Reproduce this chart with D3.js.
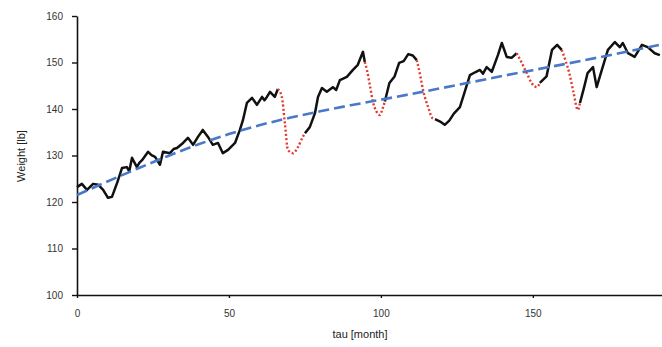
<!DOCTYPE html>
<html>
<head>
<meta charset="utf-8">
<script src="https://cdn.jsdelivr.net/npm/d3@7"></script>
<style>
	body { margin: 0; background: #fff; }
	svg { display: block; }
	.axis text { font-family: "Liberation Sans", Arial, sans-serif; font-size: 10px; fill: #333; }
	.axis path, .axis line { stroke: #111; }
</style>
</head>
<body>
<svg id="chart" width="662" height="347"></svg>
<script>
// observed weight (tau in months)
const tau = [0, 1.6, 3.3, 5.3, 7, 8.6, 10.2, 11.5, 13.2, 14.8, 16.4, 17.2, 18.1, 19.7, 20.5, 21.4, 23.4, 24.5, 25.7, 27.3, 28.3, 30.6, 31.8, 32.9,
	34.9, 36.5, 38.2, 39.8, 41.4, 43.1, 44.7, 46.4, 48, 49.7, 52, 53.6, 54.6, 55.9, 57.6, 59.2, 60.9, 61.7, 62.5, 63.5, 65.1,
	66.1, 67.4, 68.4, 69.4, 71.1, 72.7, 74.3, 75, 76.6, 78.3, 79.3, 80.6, 82.2, 84.2, 85.3, 86.5, 88.8, 90.8, 92.4, 94.1, 94.7,
	95.4, 96.4, 97.4, 98.5, 99.7, 100.5, 101.3, 102.8, 104.5, 106, 107.5, 109, 110.5, 111.8, 113, 114, 115.5, 117, 117.8,
	119.5, 121, 122.5, 124, 126, 127.5, 129.3, 131, 132.6, 133.6, 134.8, 136.5, 138.5, 139.8, 141.4, 143, 144.7, 146.3, 148,
	149.7, 151.3, 152.3, 154.5, 156.3, 158, 159.5, 160.7, 162, 163.4, 164.8, 165.5, 166.8, 168, 169.8, 171, 172.7, 174.7,
	177, 178.6, 179.6, 181.3, 183.5, 185.9, 187.8, 190.1, 191.8];
const weight = [123.2, 123.9, 122.6, 123.9, 123.7, 122.6, 120.9, 121.1, 124.1, 127.3, 127.5, 126.6, 129.5, 127.5, 128.4, 129, 130.8, 130.1, 129.7, 128, 130.8, 130.5, 131.4, 131.6,
	132.7, 133.8, 132.3, 134, 135.5, 134, 132.3, 132.7, 130.5, 131.2, 132.7, 135.5, 137.6, 141.3, 142.4, 140.9, 142.6, 141.9, 142.6, 143.7, 142.6,
	144.3, 142.6, 137, 131.2, 130.5, 131.8, 134, 134.8, 136.1, 139.1, 142.6, 144.5, 143.7, 144.7, 144.1, 146.2, 146.9, 148.4, 149.5, 152.3, 150.1,
	148.4, 145, 141.5, 139.5, 138.7, 140, 141.6, 145.6, 147, 149.9, 150.3, 151.8, 151.5, 150.5, 147, 143.7, 140.5, 138, 137.8,
	137.3, 136.6, 137.5, 139, 140.4, 143.5, 147.3, 147.9, 148.4, 147.6, 149, 148, 151.6, 154.2, 151.2, 151, 152, 150, 147.7,
	145.5, 144.7, 145.6, 147, 152.7, 153.8, 152.7, 150.5, 147.7, 143.5, 139.8, 141.3, 144.5, 147.7, 149, 144.7, 148.4, 152.7,
	154.4, 153.3, 154.2, 152, 151.2, 153.8, 153.3, 152, 151.6];

// tau intervals that are filled in (red dotted)
const gapStart = [66.1, 94.7, 111.8, 144.7, 159.5];
const gapEnd = [75, 101.3, 117.8, 152.3, 165.5];

// fitted trend
const trendTau = [0, 10, 20, 30, 40, 50, 60, 70, 80, 90, 100, 120, 140, 160, 180, 192.5];
const trendWeight = [121.5, 124.4, 127.2, 129.9, 132.4, 134.6, 136.5, 138.1, 139.5, 140.8, 142.0, 144.5, 147.1, 149.6, 152.2, 153.9];

const yTicks = [100, 110, 120, 130, 140, 150, 160];
const xTicks = [0, 50, 100, 150];

const svg = d3.select("#chart");
const x = d3.scaleLinear().domain([0, 192.5]).range([77, 662]);
const y = d3.scaleLinear().domain([100, 160]).range([295, 16]);

const points = tau.map((t, i) => ({ t: t, w: weight[i] }));
const inGap = t => gapStart.some((s, i) => t > s && t < gapEnd[i]);

// axes
svg.append("g")
	.attr("class", "axis")
	.attr("transform", "translate(77,0)")
	.call(d3.axisLeft(y).tickValues(yTicks).tickSize(5).tickPadding(9).tickSizeOuter(0))
	.call(g => g.select(".domain").attr("stroke-width", 1.6))
	.call(g => g.selectAll("line").attr("stroke-width", 1.4));

svg.append("g")
	.attr("class", "axis")
	.attr("transform", "translate(0,295)")
	.call(d3.axisBottom(x).tickValues(xTicks).tickSize(3).tickPadding(12).tickSizeOuter(0))
	.call(g => g.select(".domain").attr("stroke-width", 1.6))
	.call(g => g.selectAll("line").attr("stroke-width", 1.4));

svg.append("text")
	.attr("transform", "translate(25,156) rotate(-90)")
	.attr("text-anchor", "middle")
	.attr("font-family", "Liberation Sans, Arial, sans-serif")
	.attr("font-size", 11)
	.attr("fill", "#222")
	.text("Weight [lb]");

svg.append("text")
	.attr("x", 360)
	.attr("y", 338)
	.attr("text-anchor", "middle")
	.attr("font-family", "Liberation Sans, Arial, sans-serif")
	.attr("font-size", 11)
	.attr("fill", "#222")
	.text("tau [month]");

const line = d3.line()
	.x(d => x(d.t))
	.y(d => y(d.w));

// observed segments
svg.append("path")
	.datum(points)
	.attr("fill", "none")
	.attr("stroke", "#111")
	.attr("stroke-width", 2.5)
	.attr("stroke-linejoin", "round")
	.attr("d", line.defined(d => !inGap(d.t)));

// filled gaps
gapStart.forEach((s, i) => {
	const seg = points.filter(d => d.t >= s && d.t <= gapEnd[i]);
	svg.append("path")
		.datum(seg)
		.attr("fill", "none")
		.attr("stroke", "#e03a32")
		.attr("stroke-width", 2.4)
		.attr("stroke-dasharray", "2,2.2")
		.attr("d", d3.line().x(d => x(d.t)).y(d => y(d.w)).curve(d3.curveMonotoneX));
});

// trend
svg.append("path")
	.datum(trendTau.map((t, i) => ({ t: t, w: trendWeight[i] })))
	.attr("fill", "none")
	.attr("stroke", "#4a78c8")
	.attr("stroke-width", 2.6)
	.attr("stroke-dasharray", "11,5")
	.attr("d", d3.line().x(d => x(d.t)).y(d => y(d.w)).curve(d3.curveMonotoneX));
</script>
</body>
</html>
